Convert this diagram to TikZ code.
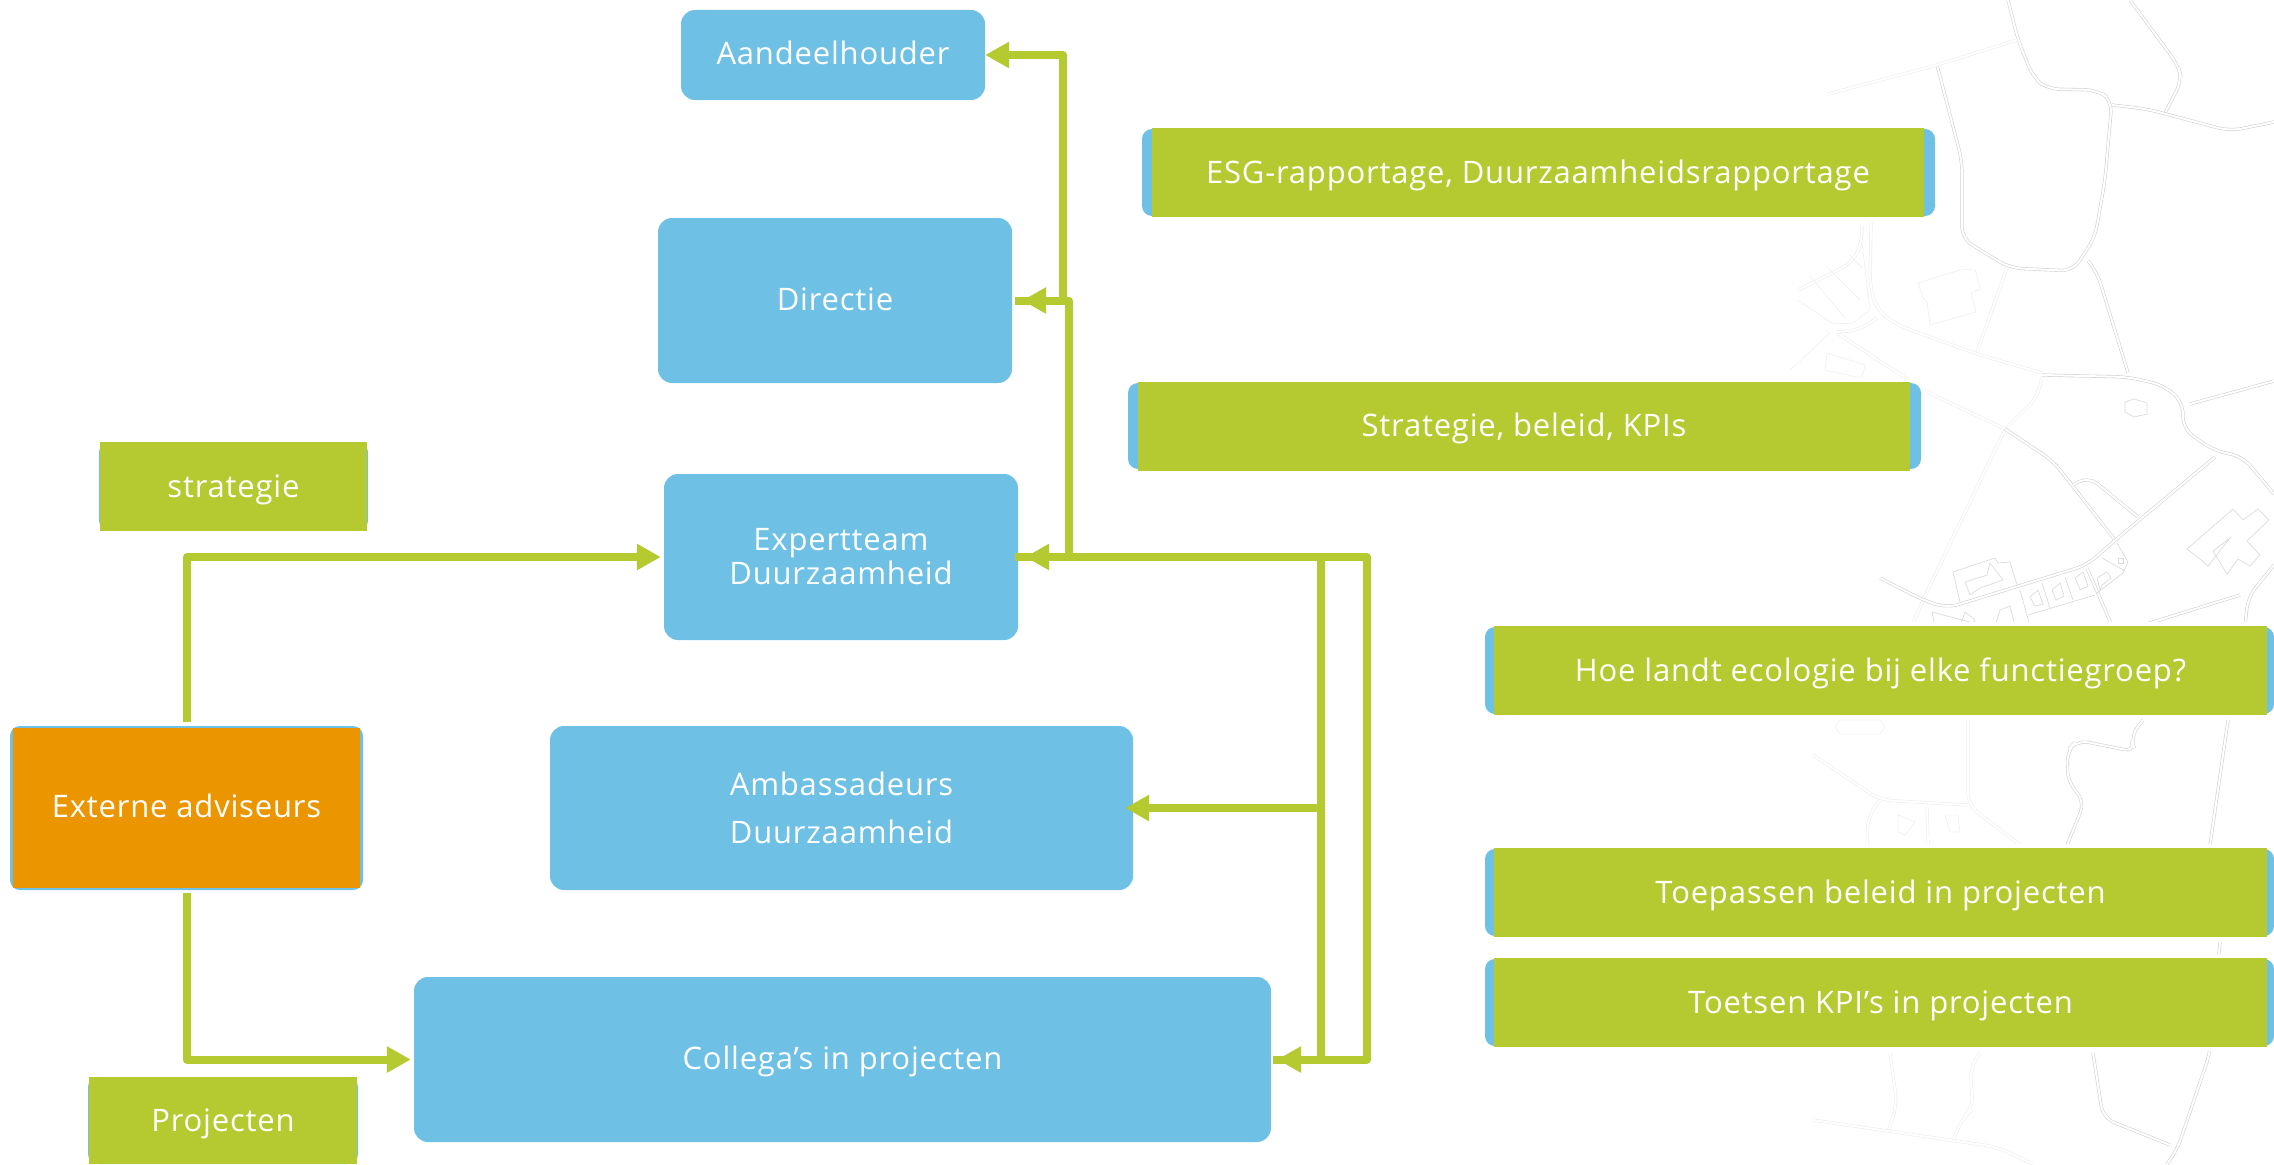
\documentclass[tikz,border=0pt]{standalone}
\usepackage{fontspec}
\setmainfont[LetterSpace=2.6]{Open Sans}
\usetikzlibrary{arrows.meta}
\definecolor{lime}{HTML}{B4CA30}
\definecolor{sky}{HTML}{6EC0E5}
\definecolor{amber}{HTML}{EB9600}
\tikzset{
  road/.style={draw=black!18,line width=.6pt,double=white,double distance=2pt,rounded corners=12pt},
  fadedroad/.style={road,draw=black!7},
  house/.style={draw=black!14,line width=.7pt},
  fadedhouse/.style={house,draw=black!6},
  label/.style={text=white,align=center,inner sep=0pt,font=\fontsize{31}{34}\selectfont},
  oneline/.style={text height=25pt,text depth=6pt},
  actor/.style={label,fill=sky,rounded corners=14pt},
  backing/.style={fill=sky,rounded corners=10pt,inner sep=0pt,preaction={draw=white,line width=10pt}},
  topic/.style={label,oneline,text height=26pt,text depth=5pt,fill=lime},
  flow/.style={draw=lime,line width=8pt,line join=round,-{Triangle[length=24pt,width=25pt]}},
  loop/.style={flow,{Triangle[length=24pt,width=25pt]}-{Triangle[length=24pt,width=25pt]}},
  bar/.style={draw=lime,line width=8pt},
}
\begin{document}
\begin{tikzpicture}[x=1pt,y=-1pt]
\useasboundingbox (0,0) rectangle (2274,1164);

\draw[road] (2008,0) -- (2018,40) -- (2033,77) -- (2047,89) -- (2097,90) -- (2112,100) -- (2105,180) -- (2095,237) -- (2073,271) -- (2010,268) -- (1962,239) -- (1962,161) -- (1937,65);
\draw[road] (2130,0) -- (2178,65) -- (2182,80) -- (2165,113);
\draw[road] (2112,105) -- (2147,109) -- (2230,131) -- (2274,122);
\draw[fadedroad] (2017,40) -- (1937,65) -- (1828,94);
\draw[road] (2088,261) -- (2097,272) -- (2128,373);
\draw[fadedroad] (2007,268) -- (1977,352);
\draw[fadedroad] (1871,222) -- (1870,287) -- (1877,310) -- (1897,325) -- (1977,354) -- (2042,373);
\draw[road] (2042,375) -- (2128,377) -- (2163,385) -- (2183,402) -- (2183,429) -- (2213,450) -- (2243,457) -- (2274,494);
\draw[road] (2190,404) -- (2274,381);
\draw[fadedroad] (2042,377) -- (2037,398) -- (2005,429) -- (1923,600) -- (1912,626);
\draw[fadedroad] (1837,333) -- (1927,392) -- (2005,429);
\draw[road] (2005,429) -- (2053,461) -- (2115,540);
\draw[road] (2073,485) -- (2088,476) -- (2138,517);
\draw[road] (2215,457) -- (2113,542) -- (2087,565) -- (1947,608) -- (1923,600) -- (1880,578);
\draw[road] (2087,568) -- (2112,626);
\draw[road] (2240,595) -- (2140,626);
\draw[road] (2274,565) -- (2248,597) -- (2245,626);
\draw[fadedroad] (1862,225) -- (1862,243) -- (1852,263) -- (1798,290);
\draw[fadedroad] (1877,318) -- (1860,330) -- (1837,332);
\draw[fadedhouse] (1870,310) -- (1853,323) -- (1833,324) -- (1798,300);
\draw[fadedhouse] (1862,243) -- (1870,310);
\draw[fadedhouse] (1810,276) -- (1845,318);
\draw[fadedhouse] (1825,265) -- (1860,300);
\draw[fadedhouse] (1850,255) -- (1862,268);
\draw[fadedhouse] (1830,333) -- (1790,370);
\draw[fadedhouse] (1827,353) -- (1865,365) -- (1862,378) -- (1825,370) -- cycle;

\draw[fadedhouse] (1918,283) -- (1960,270) -- (1975,269) -- (1980,289) -- (1971,293) -- (1976,312) -- (1930,325) -- (1927,302) -- (1923,298) -- cycle;
\draw[house] (2187,549) -- (2233,509) -- (2243,520) -- (2258,509) -- (2269,520) -- (2247,541) -- (2260,555) -- (2250,566) -- (2238,559) -- (2227,574) -- (2213,551) -- (2230,538) -- (2208,566) -- (2200,559) -- cycle;
\draw[house] (2125,402) -- (2134,399) -- (2147,403) -- (2147,414) -- (2134,417) -- (2125,412) -- cycle;
\draw[house] (2117,543) -- (2128,562) -- (2123,573) -- (2097,593);
\draw[house] (2102,558) -- (2125,571);
\draw[house] (2118,558) rectangle (2123,563);
\draw[house] (2097,578) -- (2107,572) -- (2111,578) -- (2102,585) -- (2100,590) -- cycle;
\draw[house] (2020,590) -- (2030,626);
\draw[house] (2042,583) -- (2050,608);
\draw[house] (2065,577) -- (2073,600);
\draw[house] (2028,615) -- (2095,595);
\draw[house] (2030,597) -- (2038,590) -- (2043,604) -- (2035,606) -- cycle;
\draw[house] (2052,590) -- (2060,583) -- (2064,596) -- (2056,600) -- cycle;
\draw[house] (2075,578) -- (2083,572) -- (2088,586) -- (2080,590) -- cycle;
\draw[house] (1953,572) -- (1995,558) -- (1998,563) -- (2010,562) -- (2017,585);
\draw[house] (1953,572) -- (1960,602);
\draw[house] (1965,582) -- (1987,575) -- (1990,563) -- (2003,580) -- (1980,588) -- (1970,595) -- cycle;
\draw[house] (1935,626) -- (1932,612) -- (1985,626);
\draw[house] (1960,626) -- (1965,612) -- (1975,620) -- (1972,626);
\draw[house] (1995,626) -- (2000,610) -- (2010,606) -- (2015,626);

\draw[road] (2228,720) -- (2210,845);
\draw[road] (2220,942) -- (2210,1053) -- (2177,1150) -- (2167,1164);
\draw[road] (2143,720) -- (2130,737) -- (2136,752) -- (2077,740) -- (2067,751) -- (2068,783) -- (2085,801) -- (2067,845);
\draw[fadedroad] (1968,720) -- (1968,805) -- (2020,845);
\draw[fadedroad] (1968,805) -- (1880,800) -- (1813,755);
\draw[fadedroad] (1880,800) -- (1868,816) -- (1867,845);
\draw[fadedroad] (1927,807) -- (1928,845);
\draw[road] (2093,1053) -- (2103,1118) -- (2170,1145);
\draw[fadedroad] (1890,1053) -- (1897,1104) -- (1888,1132);
\draw[fadedroad] (1980,1053) -- (1970,1068) -- (1973,1109) -- (1962,1118) -- (1953,1141);
\draw[fadedroad] (1813,1120) -- (1997,1147) -- (2033,1164);
\draw[fadedhouse] (1840,720) -- (1880,720) -- (1885,727) -- (1880,734) -- (1840,734) -- (1835,727) -- cycle;
\draw[fadedhouse] (1898,815) -- (1915,822) -- (1905,835) -- (1898,832) -- cycle;
\draw[fadedhouse] (1945,815) -- (1958,815) -- (1960,832) -- (1950,832) -- cycle;

\node[actor,oneline,minimum width=304pt,minimum height=90pt] (aandeelhouder) at (833,55) {Aandeelhouder};
\node[actor,oneline,minimum width=354pt,minimum height=165pt] (directie) at (835,300.5) {Directie};
\node[actor,minimum width=354pt,minimum height=166pt] (expertteam) at (841,557) {Expertteam\\Duurzaamheid};
\node[actor,minimum width=583pt,minimum height=164pt,font=\fontsize{31}{48}\selectfont] (ambassadeurs) at (841.5,808) {Ambassadeurs\\Duurzaamheid};
\node[actor,oneline,minimum width=857pt,minimum height=165pt] (collegas) at (842.5,1059.5) {Collega’s in projecten};

\node[backing,minimum width=353pt,minimum height=164pt] (adviseursback) at (186.5,808) {};
\node[label,oneline,fill=amber,minimum width=347pt,minimum height=160pt] (adviseurs) at (186.5,808) {Externe adviseurs};

\node[backing,minimum width=269pt,minimum height=88pt] (strategieback) at (233.5,486.5) {};
\node[topic,minimum width=267pt,minimum height=89pt] (strategie) at (233.5,486.5) {strategie};
\node[backing,minimum width=270pt,minimum height=87pt] (projectenback) at (223,1120.5) {};
\node[topic,minimum width=268pt,minimum height=87pt] (projecten) at (223,1120.5) {Projecten};

\node[backing,minimum width=793pt,minimum height=87pt] (esgback) at (1538.5,172.5) {};
\node[topic,minimum width=772pt,minimum height=89pt] (esg) at (1538,172.5) {ESG-rapportage, Duurzaamheidsrapportage};
\node[backing,minimum width=793pt,minimum height=86pt] (beleidback) at (1524.5,426) {};
\node[topic,minimum width=772pt,minimum height=89pt] (beleid) at (1524,426) {Strategie, beleid, KPIs};
\node[backing,minimum width=789pt,minimum height=87pt] (ecologieback) at (1879.5,670.5) {};
\node[topic,minimum width=773pt,minimum height=89pt] (ecologie) at (1880.5,670.5) {Hoe landt ecologie bij elke functiegroep?};
\node[backing,minimum width=789pt,minimum height=87pt] (toepassenback) at (1879.5,892.5) {};
\node[topic,minimum width=773pt,minimum height=89pt] (toepassen) at (1880.5,892.5) {Toepassen beleid in projecten};
\node[backing,minimum width=789pt,minimum height=87pt] (toetsenback) at (1879.5,1002.5) {};
\node[topic,minimum width=773pt,minimum height=89pt] (toetsen) at (1880.5,1002.5) {Toetsen KPI’s in projecten};

\coordinate (outertop) at (1367,557);
\coordinate (outerbottom) at (1367,1059.5);
\coordinate (innertop) at (1321,557);
\coordinate (innerbottom) at (1321,1059.5);
\coordinate (innermid) at (1321,808);
\coordinate (riser) at (1069,557);
\coordinate (riserend) at (1069,300.5);
\coordinate (upper) at (1063,300.5);

\draw[flow,shorten <=3pt,shorten >=3pt] (adviseurs.north) ++(0,-3) |- (expertteam.west);
\draw[flow,shorten >=3pt] (adviseurs.south) ++(0,5) |- (collegas.west);

\draw[loop,shorten <=7pt,shorten >=6pt] (expertteam.east) -- (outertop) -- (outerbottom) -- (collegas.east);
\draw[bar] (innertop) -- (innerbottom);
\draw[flow,shorten >=-8pt] (innermid) -- (ambassadeurs.east);
\draw[flow,shorten >=10pt] (riser) -- (riserend) -- (directie.east);
\draw[flow] (upper) |- (aandeelhouder.east);

\draw[bar] (expertteam.east) ++(-3,0) -- ++(23,0);
\draw[bar] (collegas.east) ++(2,0) -- ++(18,0);
\draw[bar] (directie.east) ++(3,0) -- ++(17,0);
\end{tikzpicture}
\end{document}
